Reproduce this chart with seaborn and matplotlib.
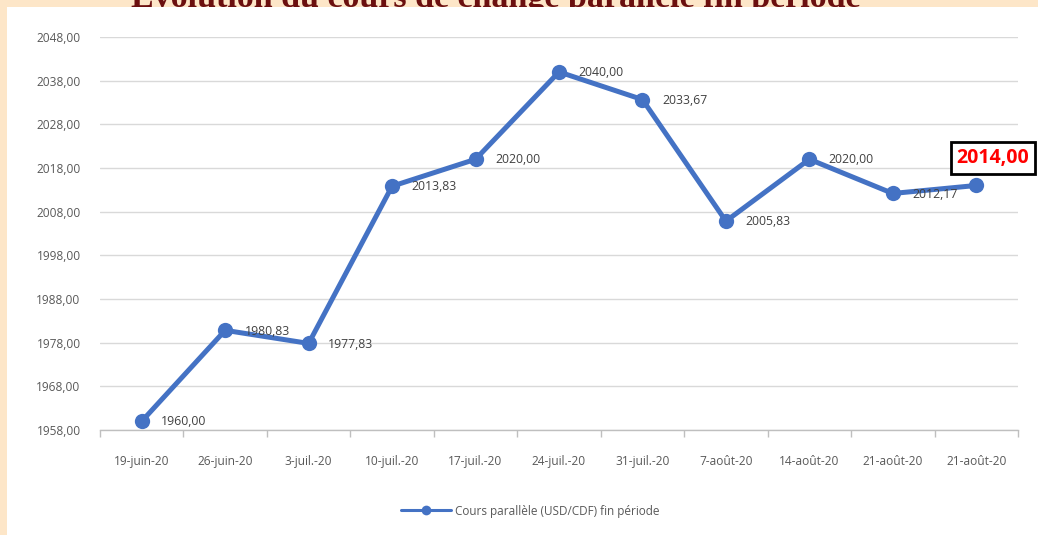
import matplotlib
matplotlib.use("Agg")
import matplotlib.pyplot as plt
import seaborn as sns
import pandas as pd
from matplotlib.patches import Rectangle
from matplotlib.ticker import FuncFormatter, FixedLocator

# ---------------- data ----------------
dates = ["19-juin-20", "26-juin-20", "3-juil.-20", "10-juil.-20", "17-juil.-20",
         "24-juil.-20", "31-juil.-20", "7-août-20", "14-août-20", "21-août-20",
         "21-août-20"]
cours = [1960.00, 1980.83, 1977.83, 2013.83, 2020.00, 2040.00,
         2033.67, 2005.83, 2020.00, 2012.17, 2014.00]
y_ticks = [1958, 1968, 1978, 1988, 1998, 2008, 2018, 2028, 2038, 2048]

df = pd.DataFrame({"pos": range(len(dates)), "cours": cours})

sns.set_theme(style="white")
plt.rcParams["font.family"] = ["Open Sans", "DejaVu Sans"]

beige = "#fde6c8"
blue = "#4472c4"
grey_txt = "#595959"

fig = plt.figure(figsize=(10.38, 5.35), dpi=100)
fig.patch.set_facecolor(beige)

# titre (coupé par le cadre blanc du graphique)
fig.text(496 / 1038, 1 - 7 / 535,
         "Évolution du cours de change parallèle fin période",
         ha="center", va="baseline", fontsize=24.5, fontweight="bold",
         family="Liberation Serif", color="#6b0f0f", zorder=-2)
fig.patches.append(Rectangle((7 / 1038, 0), 1, 1 - 7 / 535,
                             transform=fig.transFigure, facecolor="white",
                             edgecolor="none", zorder=-1))

ax = fig.add_axes([100 / 1038, 1 - 430 / 535, 918 / 1038, 393 / 535])
ax.set_facecolor("white")

sns.lineplot(data=df, x="pos", y="cours", ax=ax, color=blue, linewidth=3.6,
             marker="o", markersize=11, markeredgewidth=0,
             label="Cours parallèle (USD/CDF) fin période")

# étiquettes de données
for i, v in enumerate(cours[:-1]):
    ax.annotate(f"{v:.2f}".replace(".", ","), (i, v), xytext=(14, -0.5),
                textcoords="offset points", ha="left", va="center",
                fontsize=8.8, color="#404040")
last = len(cours) - 1
ax.annotate(f"{cours[last]:.2f}".replace(".", ","), (last, cours[last]),
            xytext=(12, 20), textcoords="offset points", ha="center",
            va="center", fontsize=14, fontweight="bold", color="#ff0000",
            bbox=dict(boxstyle="square,pad=0.3", facecolor="white",
                      edgecolor="black", linewidth=2))

# axes
ax.set_xlim(-0.5, len(dates) - 0.5)
ax.set_ylim(1958, 2048)
ax.set_xticks(range(len(dates)))
ax.set_xticklabels(dates)
ax.xaxis.set_minor_locator(FixedLocator([i - 0.5 for i in range(len(dates) + 1)]))
ax.set_yticks(y_ticks)
ax.yaxis.set_major_formatter(FuncFormatter(lambda v, p: f"{v:.2f}".replace(".", ",")))
ax.tick_params(axis="x", which="major", length=0, pad=18, labelsize=8.6,
               labelcolor=grey_txt)
ax.tick_params(axis="x", which="minor", length=5, width=1, color="#bfbfbf",
               direction="out", bottom=True)
ax.tick_params(axis="y", length=0, pad=14, labelsize=8.6, labelcolor=grey_txt)
ax.set_xlabel("")
ax.set_ylabel("")
ax.grid(axis="y", color="#d9d9d9", linewidth=1)
ax.set_axisbelow(True)
for s in ["top", "right", "left"]:
    ax.spines[s].set_visible(False)
ax.spines["bottom"].set_color("#bfbfbf")
ax.spines["bottom"].set_linewidth(1)

ax.get_legend().remove()
handles, labels = ax.get_legend_handles_labels()
leg = fig.legend(handles, labels, loc="center",
                 bbox_to_anchor=(530 / 1038, 1 - 511 / 535), frameon=False,
                 fontsize=8.5, handlelength=4.3, handletextpad=0.3)
for t in leg.get_texts():
    t.set_color(grey_txt)
for h in leg.legend_handles:
    h.set_linewidth(2.2)
    h.set_markersize(7)

fig.savefig("out.png", dpi=100, facecolor=beige)
